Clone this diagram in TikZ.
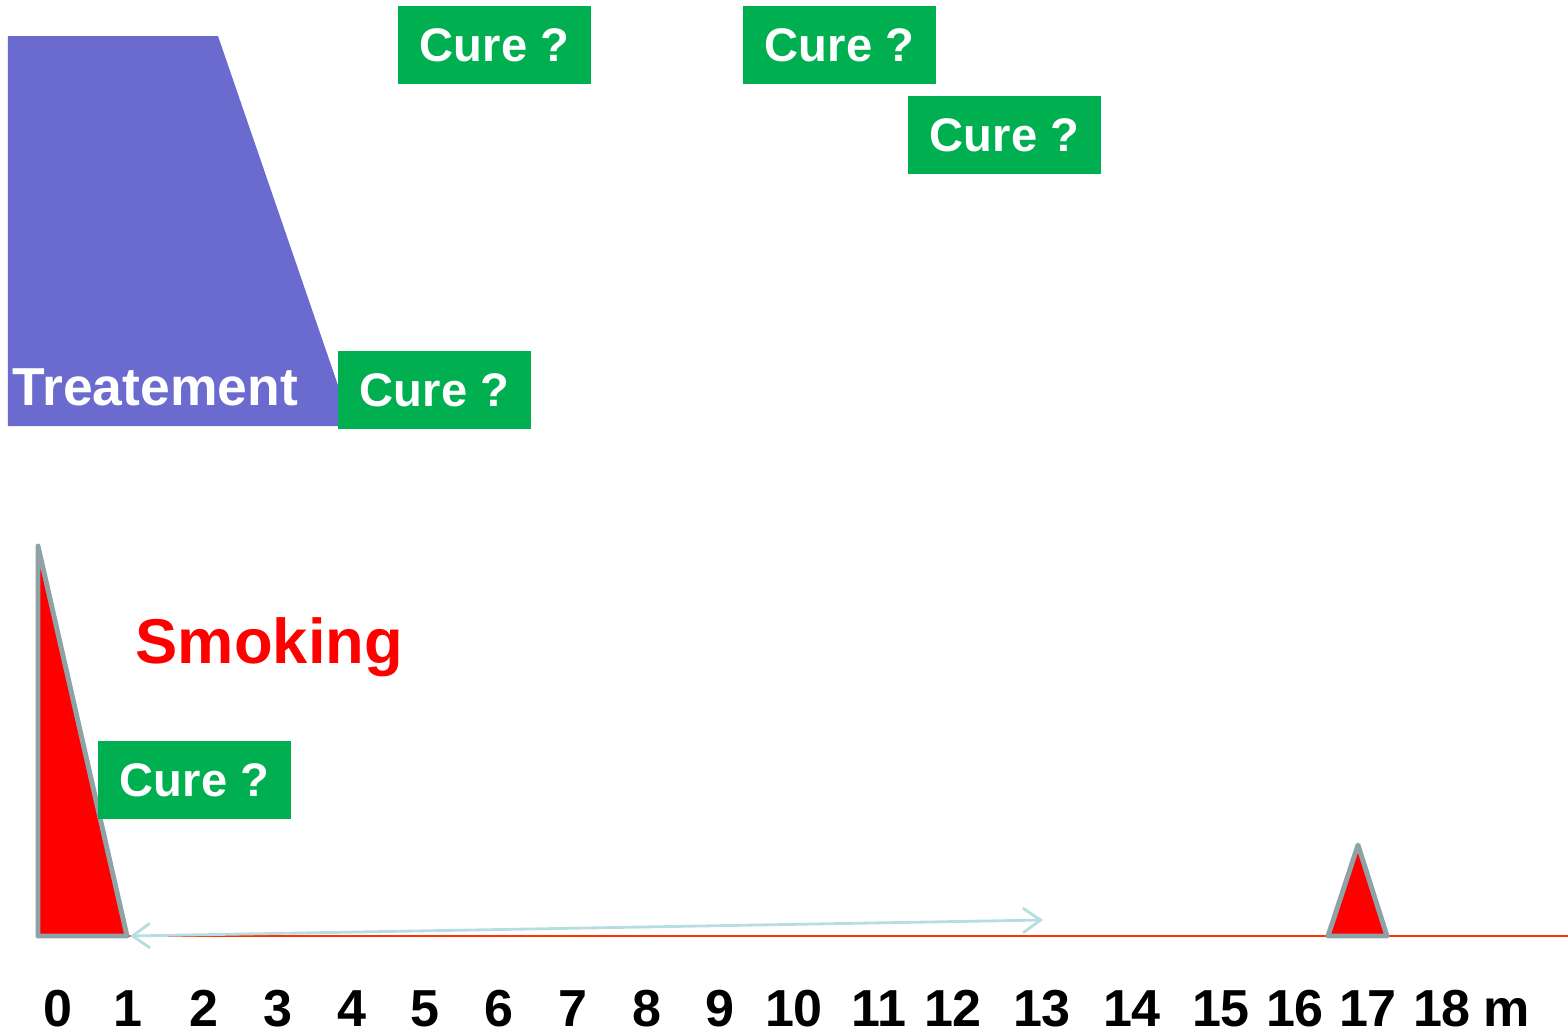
\documentclass[tikz,border=0pt]{standalone}
\usepackage{fontspec}
\setmainfont{Liberation Sans}
\usetikzlibrary{arrows.meta}

\definecolor{curegreen}{RGB}{0,176,80}
\definecolor{treatblue}{RGB}{107,107,207}
\definecolor{edgegray}{RGB}{143,163,166}
\definecolor{axisred}{RGB}{255,51,0}
\definecolor{spanblue}{RGB}{183,221,227}

\tikzset{
  cure/.style={fill=curegreen, text=white, font=\fontsize{13.4}{16}\selectfont\bfseries,
    minimum width=1.93cm, minimum height=0.78cm, inner sep=0pt},
  peak/.style={fill=red, draw=edgegray, line width=1.4pt, line join=round},
  monthlabel/.style={font=\fontsize{14.8}{18}\selectfont\bfseries, anchor=base, inner sep=0pt, text depth=0pt}
}

\begin{document}
\begin{tikzpicture}[x=0.01cm, y=-0.01cm]

\useasboundingbox (0,0) rectangle (1568,1033);

% Treatment block
\fill[treatblue] (8,36) -- (218,36) -- (352,426) -- (8,426) -- cycle;
\node[anchor=base west, inner sep=0pt, text=white, font=\fontsize{15.2}{18}\selectfont\bfseries] (treat) at (12,405) {Treatement};

% Time axis
\coordinate (axisstart) at (38,936);
\coordinate (axisend) at (1568,936);
\draw[axisred, line width=0.6pt] (axisstart) -- (axisend);

% Smoking peaks
\draw[peak] (38,546) -- (38,936) -- (127,936) -- cycle;
\draw[peak] (1358,845) -- (1328,936) -- (1387,936) -- cycle;

% Span arrow
\coordinate (spanL) at (130,936);
\coordinate (spanR) at (1043,920);
\draw[spanblue, line width=0.8pt, {Straight Barb[length=5pt,width=7pt]}-{Straight Barb[length=5pt,width=7pt]}] (spanL) -- (spanR);

% Cure ? boxes
\foreach \x/\y/\n in {494.5/45/a, 839.5/45/b, 1004.5/135/c, 434.5/390/d, 194.5/780/e}
    \node[cure] (cure\n) at (\x,\y) {Cure ?};

\node[anchor=base west, inner sep=0pt, text=red, font=\fontsize{18}{22}\selectfont\bfseries] (smoking) at (135,663) {Smoking};

% Months
\foreach \x/\t in {58/0, 128/1, 204/2, 278/3, 352/4, 425/5, 499/6, 573/7, 647/8, 720/9,
    794/10, 879/11, 953/12, 1042/13, 1132/14, 1221/15, 1295/16, 1368/17, 1442/18, 1507/m}
    \node[monthlabel] (lbl\t) at (\x,1026) {\t};

\end{tikzpicture}
\end{document}
